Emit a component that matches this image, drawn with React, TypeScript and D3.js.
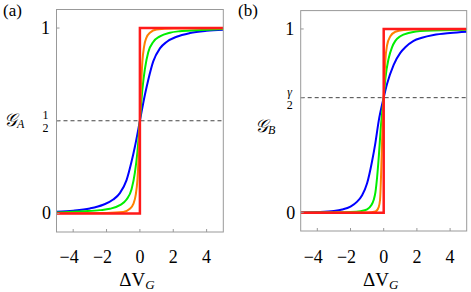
import { useRef, useEffect } from 'react';
import * as d3 from 'd3';

// curves: [ΔV_G, conductance]
const blueA = [[-5, 0.009], [-4, 0.015], [-3, 0.027], [-2.2, 0.047], [-1.6, 0.075], [-1.2, 0.11], [-0.8, 0.18], [-0.5, 0.28], [-0.3, 0.36], [0, 0.5], [0.3, 0.64], [0.5, 0.72], [0.8, 0.82], [1.2, 0.89], [1.6, 0.925], [2.2, 0.953], [3, 0.973], [4, 0.985], [5, 0.991]];
const greenA = [[-5, 0.005], [-3.4, 0.012], [-2.4, 0.018], [-1.8, 0.025], [-1.2, 0.045], [-0.8, 0.075], [-0.5, 0.13], [-0.3, 0.22], [-0.15, 0.33], [0, 0.5], [0.15, 0.67], [0.3, 0.78], [0.5, 0.87], [0.8, 0.925], [1.2, 0.955], [1.8, 0.975], [2.4, 0.983], [3.4, 0.988], [5, 0.995]];
const orangeA = [[-5, 0.001], [-2, 0.003], [-1, 0.008], [-0.6, 0.025], [-0.4, 0.05], [-0.25, 0.1], [-0.15, 0.18], [-0.07, 0.32], [0, 0.5], [0.07, 0.68], [0.15, 0.82], [0.25, 0.9], [0.4, 0.95], [0.6, 0.975], [1, 0.992], [2, 0.997], [5, 0.999]];
const redA = [[-5, 0], [0, 0], [0, 1], [5, 1]];

const blueB = [[-5, 0.001], [-4, 0.003], [-3, 0.009], [-2.5, 0.017], [-2, 0.033], [-1.6, 0.06], [-1.3, 0.095], [-1, 0.16], [-0.7, 0.28], [-0.5, 0.38], [-0.3, 0.5], [0, 0.626], [0.2, 0.7], [0.6, 0.805], [1, 0.87], [1.3, 0.9], [1.8, 0.935], [2.3, 0.952], [3, 0.967], [4, 0.978], [5, 0.985]];
const greenB = [[-5, 0], [-3, 0.001], [-2, 0.003], [-1.4, 0.008], [-1, 0.018], [-0.75, 0.04], [-0.6, 0.07], [-0.5, 0.11], [-0.4, 0.19], [-0.3, 0.3], [-0.16, 0.48], [0, 0.626], [0.1, 0.73], [0.3, 0.84], [0.5, 0.9], [0.7, 0.935], [1, 0.96], [1.5, 0.978], [2.5, 0.99], [5, 0.996]];
const orangeB = [[-5, 0], [-1, 0.001], [-0.5, 0.006], [-0.3, 0.03], [-0.22, 0.07], [-0.16, 0.2], [-0.1, 0.38], [-0.05, 0.52], [0, 0.626], [0.05, 0.74], [0.1, 0.83], [0.2, 0.91], [0.4, 0.96], [0.7, 0.985], [1.2, 0.995], [2, 0.999], [5, 1]];
const redB = [[-5, 0], [0, 0], [0, 1], [5, 1]];

const xTicks = [-4, -2, 0, 2, 4];
const colors = ['#0000ff', '#00ee00', '#ff8000', '#ff1a1a'];
const widths = [2, 2, 2, 2.5];

const panels = [
  { key: 'a', tag: '(a)', sub: 'A', mid: 0.5, midTop: '1', series: [blueA, greenA, orangeA, redA],
    x0: 56.5, x1: 223.3, y0: 232, y1: 9.5, tagX: 3, labelX: 4, labelY: 126 },
  { key: 'b', tag: '(b)', sub: 'B', mid: 0.626, midTop: 'γ', series: [blueB, greenB, orangeB, redB],
    x0: 300.7, x1: 466.7, y0: 231, y1: 10.6, tagX: 238, labelX: 255, labelY: 132 },
];

const serif = 'Liberation Serif';

export default function App() {
  const svgRef = useRef(null);

  useEffect(() => {
    const svg = d3.select(svgRef.current);
    svg.selectAll('*').remove();

    const txt = (parent, size) => parent.append('text')
      .attr('font-family', serif)
      .attr('font-size', size);

    panels.forEach(p => {
      const x = d3.scaleLinear().domain([-5, 5]).range([p.x0, p.x1]);
      const y = d3.scaleLinear().domain([-0.1, 1.1]).range([p.y0, p.y1]);
      const g = svg.append('g');

      g.append('clipPath').attr('id', `clip-${p.key}`)
        .append('rect')
        .attr('x', p.x0).attr('y', p.y1)
        .attr('width', p.x1 - p.x0).attr('height', p.y0 - p.y1);

      // dashed reference level
      g.append('line')
        .attr('x1', p.x0).attr('x2', p.x1)
        .attr('y1', y(p.mid)).attr('y2', y(p.mid))
        .attr('stroke', '#444').attr('stroke-width', 1)
        .attr('stroke-dasharray', '4,3');

      const plot = g.append('g').attr('clip-path', `url(#clip-${p.key})`);
      p.series.forEach((s, i) => {
        const line = d3.line()
          .x(d => x(d[0]))
          .y(d => y(d[1]))
          .curve(i === 3 ? d3.curveLinear : d3.curveMonotoneX);
        plot.append('path')
          .attr('d', line(s))
          .attr('fill', 'none')
          .attr('stroke', colors[i])
          .attr('stroke-width', widths[i]);
      });

      // frame
      g.append('rect')
        .attr('x', p.x0).attr('y', p.y1)
        .attr('width', p.x1 - p.x0).attr('height', p.y0 - p.y1)
        .attr('fill', 'none').attr('stroke', '#999').attr('stroke-width', 1);

      // ticks
      xTicks.forEach(t => {
        g.append('line')
          .attr('x1', x(t)).attr('x2', x(t))
          .attr('y1', p.y0).attr('y2', p.y0 - 3)
          .attr('stroke', '#999');
        txt(g, 18)
          .attr('x', x(t) - (t < 0 ? 4 : 0)).attr('y', 263)
          .attr('text-anchor', 'middle')
          .text(t < 0 ? `−${-t}` : `${t}`);
      });
      [0, p.mid, 1].forEach(t => {
        g.append('line')
          .attr('x1', p.x0).attr('x2', p.x0 + 3)
          .attr('y1', y(t)).attr('y2', y(t))
          .attr('stroke', '#999');
      });

      txt(g, 18)
        .attr('x', p.x0 - 11).attr('y', y(1) + 6)
        .attr('text-anchor', 'middle')
        .text('1');
      txt(g, 18)
        .attr('x', p.x0 - 10).attr('y', y(0) + 6)
        .attr('text-anchor', 'middle')
        .text('0');
      txt(g, 12)
        .attr('x', p.x0 - 11).attr('y', y(p.mid) - 2)
        .attr('text-anchor', 'middle')
        .attr('font-style', p.midTop === 'γ' ? 'italic' : 'normal')
        .text(p.midTop);
      txt(g, 12)
        .attr('x', p.x0 - 11).attr('y', y(p.mid) + 11)
        .attr('text-anchor', 'middle')
        .text('2');

      // axis labels
      const lab = txt(g, 18)
        .attr('x', p.labelX).attr('y', p.labelY);
      lab.append('tspan').attr('font-style', 'italic').text('𝒢');
      lab.append('tspan').attr('dy', 2).attr('font-size', 12).attr('font-style', 'italic').text(p.sub);

      const xl = txt(g, 19)
        .attr('x', (p.x0 + p.x1) / 2 - 3).attr('y', 286)
        .attr('text-anchor', 'middle');
      xl.append('tspan').text('ΔV');
      xl.append('tspan').attr('dy', 3).attr('font-size', 13).attr('font-style', 'italic').text('G');

      txt(g, 17)
        .attr('x', p.tagX).attr('y', 16)
        .text(p.tag);
    });
  }, []);

  return (
    <svg ref={svgRef} width={471} height={292} style={{ position: 'absolute', left: 0, top: 0 }} />
  );
}
